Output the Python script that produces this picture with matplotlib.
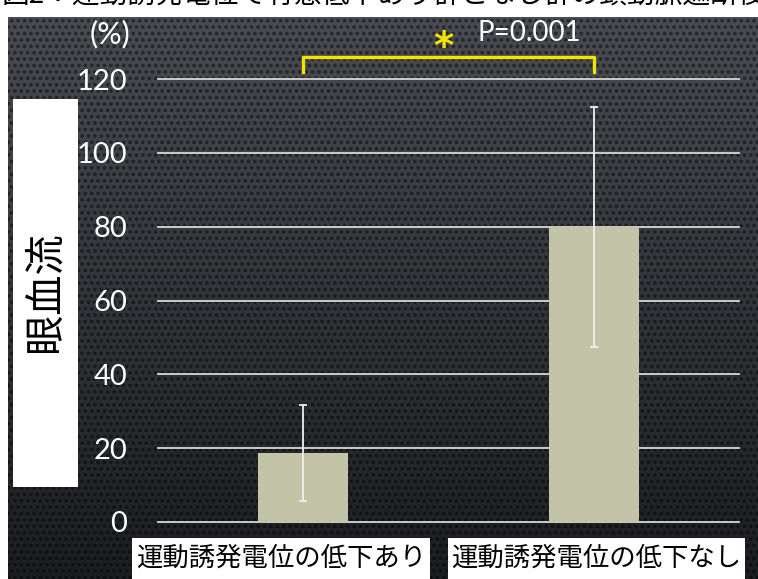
import matplotlib
matplotlib.use("Agg")
import matplotlib.pyplot as plt
from matplotlib.patches import Rectangle
import numpy as np

plt.rcParams['font.family'] = ['Noto Sans CJK JP', 'DejaVu Sans']

# data
categories = ['運動誘発電位の低下あり', '運動誘発電位の低下なし']
values = [18.7, 80.0]
errors = [13.0, 32.5]
y_ticks = [0, 20, 40, 60, 80, 100, 120]
title = '図2：運動誘発電位で有意低下あり群となし群の頸動脈遮断後'
ylabel = '眼血流'
p_text = 'P=0.001'

W, H = 758, 579
fig = plt.figure(figsize=(W / 100, H / 100), dpi=100)
fig.patch.set_facecolor('white')


def fx(px):
    return px / W


def fy(py):
    return 1 - py / H


# dark dotted background panel
bg = fig.add_axes([fx(8), 0, fx(750), fy(17)])
bg.set_axis_off()
ph, pw = 562, 750
yy, xx = np.mgrid[0:ph, 0:pw]
t = yy / ph
top = np.array([0x4a, 0x4c, 0x52]) / 255
bot = np.array([0x1c, 0x1d, 0x20]) / 255
img = top[None, None, :] * (1 - t[..., None]) + bot[None, None, :] * t[..., None]
period = 6.4
row = np.floor(yy / period)
dx = (xx + (row % 2) * period / 2) % period - period / 2
dy = yy % period - period / 2
dot = np.clip(1.0 - (np.sqrt(dx ** 2 + dy ** 2) - 1.4), 0, 1)
img = img * (1 - 0.45 * dot[..., None])
bg.imshow(img, aspect='auto', interpolation='bilinear', extent=[0, 1, 0, 1])
bg.set_xlim(0, 1)
bg.set_ylim(0, 1)

# title strip (cut off at the top)
fig.text(fx(2), fy(-4), title, fontsize=20, color='black', ha='left', va='center')

# main axes
ax = fig.add_axes([fx(158), fy(522), fx(581), (522 - 79) / H])
ax.patch.set_alpha(0)
for s in ax.spines.values():
    s.set_visible(False)
ax.set_xlim(-0.5, 1.5)
ax.set_ylim(0, 120)
for v in y_ticks:
    ax.axhline(v, color='#d8d8d8', lw=1.3, zorder=1, clip_on=False)

x = np.arange(len(categories))
ax.bar(x, values, width=0.31, color='#c3c3a8', zorder=2)
ax.errorbar(x, values, yerr=errors, fmt='none', ecolor='#f0f0f0',
            elinewidth=1.3, capsize=3, capthick=1.3, zorder=3)

ax.set_xticks([])
ax.set_yticks(y_ticks)
ax.set_yticklabels([str(v) for v in y_ticks], family=['Lato', 'DejaVu Sans'])
ax.tick_params(axis='y', length=0, pad=22, labelsize=21, labelcolor='white')

# significance bracket
ax.plot([0, 0, 1, 1], [122, 126, 126, 122], color='#f0e400', lw=2.4,
        clip_on=False, zorder=4)
fig.text(fx(443), fy(48), '*', color='#f0e400', fontsize=28, fontweight='bold',
         family='DejaVu Sans', ha='center', va='center')
fig.text(fx(477), fy(33), p_text, color='white', fontsize=20,
         family=['Lato', 'DejaVu Sans'], ha='left', va='center')
fig.text(fx(110), fy(34), '(%)', color='white', fontsize=22,
         family=['Lato', 'DejaVu Sans'], ha='center', va='center')

# y label box
fig.patches.append(Rectangle((fx(13), fy(487)), fx(65), (487 - 99) / H,
                             transform=fig.transFigure, facecolor='white',
                             edgecolor='none', zorder=5))
fig.text(fx(45), fy(292), ylabel, rotation=90, fontsize=29, color='black',
         ha='center', va='center', zorder=6)

# category label boxes
boxes = [(132, 430), (448, 745)]
for (x0, x1), label in zip(boxes, categories):
    fig.patches.append(Rectangle((fx(x0), 0), fx(x1 - x0), fy(538),
                                 transform=fig.transFigure, facecolor='white',
                                 edgecolor='none', zorder=5))
    fig.text(fx((x0 + x1) / 2), fy(558), label, fontsize=19, color='black',
             ha='center', va='center', zorder=6)

fig.savefig('out.png', dpi=100)
